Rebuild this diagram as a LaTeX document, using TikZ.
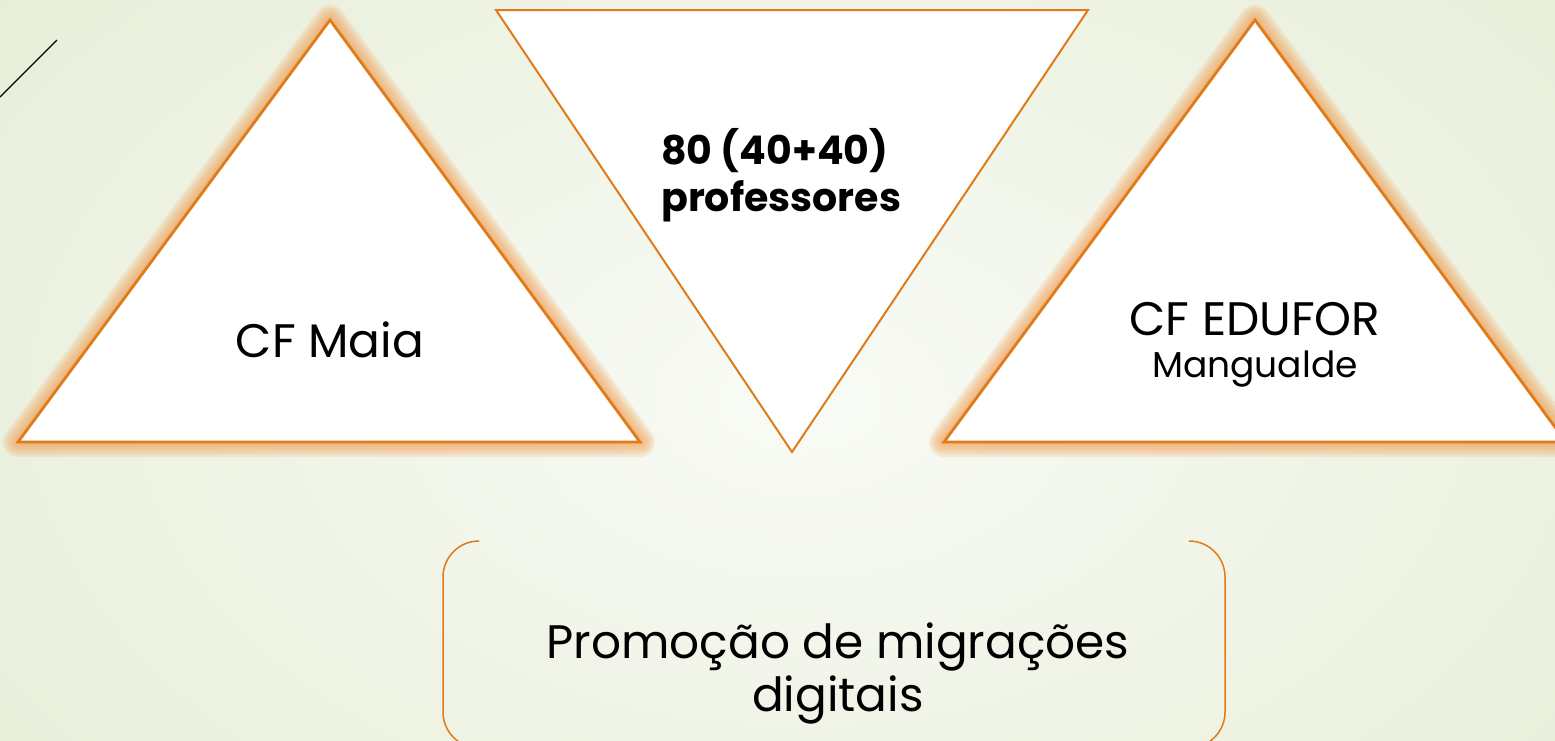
\documentclass[tikz,border=0pt]{standalone}
\usepackage{fontspec}
\setmainfont{Poppins}
\definecolor{bgout}{HTML}{E6EDD6}
\definecolor{bgin}{HTML}{F9FBF6}
\definecolor{edge}{HTML}{E07B1A}
\definecolor{glow}{HTML}{F2A25A}
\definecolor{thin}{HTML}{6E6A5C}
\tikzset{
  glowline/.style={draw=glow, line join=round, opacity=0.18},
  tri/.style={fill=white, draw=edge, line width=2.8pt, line join=miter},
  lbl/.style={inner sep=0pt, text=black, align=center},
  brk/.style={draw=edge, line width=1.5pt, rounded corners=36pt},
}
\begin{document}
\begin{tikzpicture}[x=1pt,y=-1pt]
\useasboundingbox (0,0) rectangle (1555,740);
\clip (0,0) rectangle (1555,740);
\shade[inner color=bgin, outer color=bgout] (-300,-300) rectangle (1900,1100);
% thin line top-left
\coordinate (t1) at (0,97);
\coordinate (t2) at (57,40);
\draw[thin, line width=1.2pt] (t1) -- (t2);
% left triangle
\coordinate (La) at (330,20);
\coordinate (Lb) at (18,442);
\coordinate (Lc) at (640,442);
\foreach \w in {30,25,20,15,10,6}{
  \draw[glowline, line width=\w pt] (La) -- (Lb) -- (Lc) -- cycle;
}
\draw[tri] (La) -- (Lb) -- (Lc) -- cycle;
% right triangle
\coordinate (Ra) at (1255,20);
\coordinate (Rb) at (944,442);
\coordinate (Rc) at (1566,442);
\foreach \w in {30,25,20,15,10,6}{
  \draw[glowline, line width=\w pt] (Ra) -- (Rb) -- (Rc) -- cycle;
}
\draw[tri] (Ra) -- (Rb) -- (Rc) -- cycle;
% middle inverted triangle
\coordinate (Ma) at (496,10);
\coordinate (Mb) at (1088,10);
\coordinate (Mc) at (792,452);
\draw[tri, line width=2pt] (Ma) -- (Mb) -- (Mc) -- cycle;
% texts
\node[lbl, font=\fontsize{47}{52}\selectfont] (maia) at (330,340) {CF Maia};
\node[lbl, font=\fontsize{47}{52}\selectfont] (edufor) at (1255,319) {CF EDUFOR};
\node[lbl, font=\fontsize{36}{42}\selectfont] (mang) at (1255,369) {Mangualde};
\node[lbl, anchor=west, align=left, font=\fontsize{39.5}{47}\selectfont\bfseries] (prof) at (661,175) {80 (40+40)\\professores};
% bottom bracket box
\draw[brk] (477,541) -- (443,541) -- (443,748) -- (477,748);
\draw[brk] (1192,541) -- (1225,541) -- (1225,748) -- (1192,748);
\node[lbl, font=\fontsize{47}{53}\selectfont] (promo) at (838,673) {Promoção de migrações\\digitais};
\end{tikzpicture}
\end{document}
